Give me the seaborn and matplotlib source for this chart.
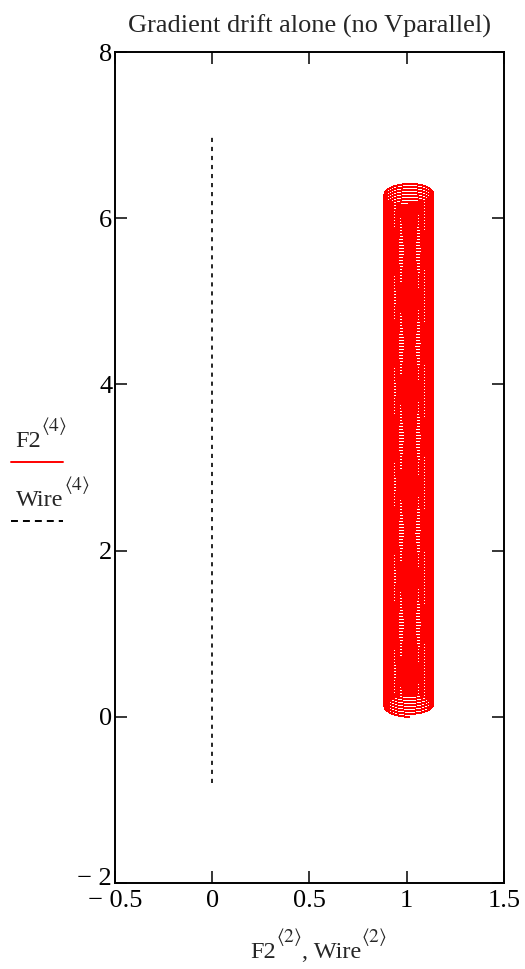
import numpy as np
import pandas as pd
import matplotlib
matplotlib.use("Agg")
import matplotlib.pyplot as plt
import matplotlib.transforms as mtransforms
from matplotlib.lines import Line2D
import seaborn as sns

# Guiding-centre orbit of the particle (x vs z), drifting along the wire
orbit_center_x = 1.01      # mean radial position of the orbit
gyro_radius = 0.125        # Larmor radius
z_start = 0.0              # starting height of the particle
z_end_top = 6.43           # highest point reached by the orbit
n_turns = 173              # number of gyrations drawn
pts_per_turn = 72

# Wire along the z axis
wire_x = [0.0, 0.0]
wire_z = [-0.8, 7.0]

x_ticks = [-0.5, 0, 0.5, 1, 1.5]
x_tick_labels = ["\u2212 0.5", "0", "0.5", "1", "1.5"]
y_ticks = [-2, 0, 2, 4, 6, 8]
y_tick_labels = ["\u2212 2", "0", "2", "4", "6", "8"]

# Build the orbit: gyration about a centre that drifts steadily in z
theta = np.linspace(0, 2 * np.pi * n_turns, n_turns * pts_per_turn + 1)
zc0 = z_start + gyro_radius
pitch = (z_end_top - gyro_radius - zc0) / (2 * np.pi * n_turns)
orbit = pd.DataFrame({
    "x": orbit_center_x - gyro_radius * np.sin(theta),
    "z": zc0 - gyro_radius * np.cos(theta) + pitch * theta,
})
wire = pd.DataFrame({"x": wire_x, "z": wire_z})

sns.set_style("ticks")
plt.rcParams["font.family"] = ["Liberation Serif", "DejaVu Serif"]
plt.rcParams["mathtext.fontset"] = "stix"
plt.rcParams["lines.scale_dashes"] = False

fig = plt.figure(figsize=(5.25, 9.69), dpi=100)
ax = fig.add_axes([0.219, 0.0888, 0.741, 0.8575])

sns.lineplot(data=orbit, x="x", y="z", sort=False, estimator=None,
             color="#ff0000", lw=0.7, antialiased=False, ax=ax)
sns.lineplot(data=wire, x="x", y="z", sort=False, estimator=None,
             color="black", lw=1.2, linestyle=(0, (3.0, 3.5)), ax=ax)

ax.set_xlim(-0.5, 1.5)
ax.set_ylim(-2, 8)
ax.set_xticks(x_ticks, x_tick_labels)
ax.set_yticks(y_ticks, y_tick_labels)
ax.tick_params(direction="in", top=True, right=True, length=8.5, width=1.1,
               labelsize=19, color="black", labelcolor="black")
ax.tick_params(axis="x", pad=5)
ax.tick_params(axis="y", pad=2)
for s in ax.spines.values():
    s.set_visible(True)
    s.set_linewidth(1.4)
    s.set_color("black")

# Lift the lowest y label a little so it clears the x labels
lift = mtransforms.ScaledTranslation(0, 5 / 72, fig.dpi_scale_trans)
ylab0 = ax.get_yticklabels()[0]
ylab0.set_transform(ylab0.get_transform() + lift)

ax.set_title("Gradient drift alone (no Vparallel)", fontsize=19, pad=14)
ax.set_xlabel("")
ax.set_ylabel("")


def label_with_superscripts(px, py, pieces, size=17.5, sup_size=14, sup_rise=11):
    """Write base text and raised angle-bracket superscripts one after another,
    starting at pixel (px, py) measured from the top-left of the figure."""
    W, H = fig.get_size_inches() * fig.dpi
    first = fig.text(px / W, 1 - py / H, pieces[0][0], fontsize=size,
                     ha="left", va="bottom")
    prev = first
    for text, is_sup in pieces[1:]:
        rise = sup_rise if is_sup else 0
        fs = sup_size if is_sup else size
        prev = ax.annotate(text, xy=(1, 0), xycoords=(prev, first),
                           xytext=(0, rise), textcoords="offset points",
                           fontsize=fs, ha="left", va="bottom",
                           annotation_clip=False)
    return first


# Axis title under the x axis
label_with_superscripts(250, 963, [("F2", False), (r"$\langle 2\rangle$", True),
                                   (", Wire", False), (r"$\langle 2\rangle$", True)])

# Legend keys to the left of the plot
label_with_superscripts(15, 452, [("F2", False), (r"$\langle 4\rangle$", True)])
fig.add_artist(Line2D([11 / 525, 63 / 525], [1 - 462 / 969] * 2,
                      color="#ff0000", lw=1.4, transform=fig.transFigure))
label_with_superscripts(16, 511, [("Wire", False), (r"$\langle 4\rangle$", True)])
fig.add_artist(Line2D([11 / 525, 63 / 525], [1 - 521 / 969] * 2,
                      color="black", lw=1.4, linestyle=(0, (5.0, 3.6)),
                      transform=fig.transFigure))

fig.savefig("out.png", dpi=100)
